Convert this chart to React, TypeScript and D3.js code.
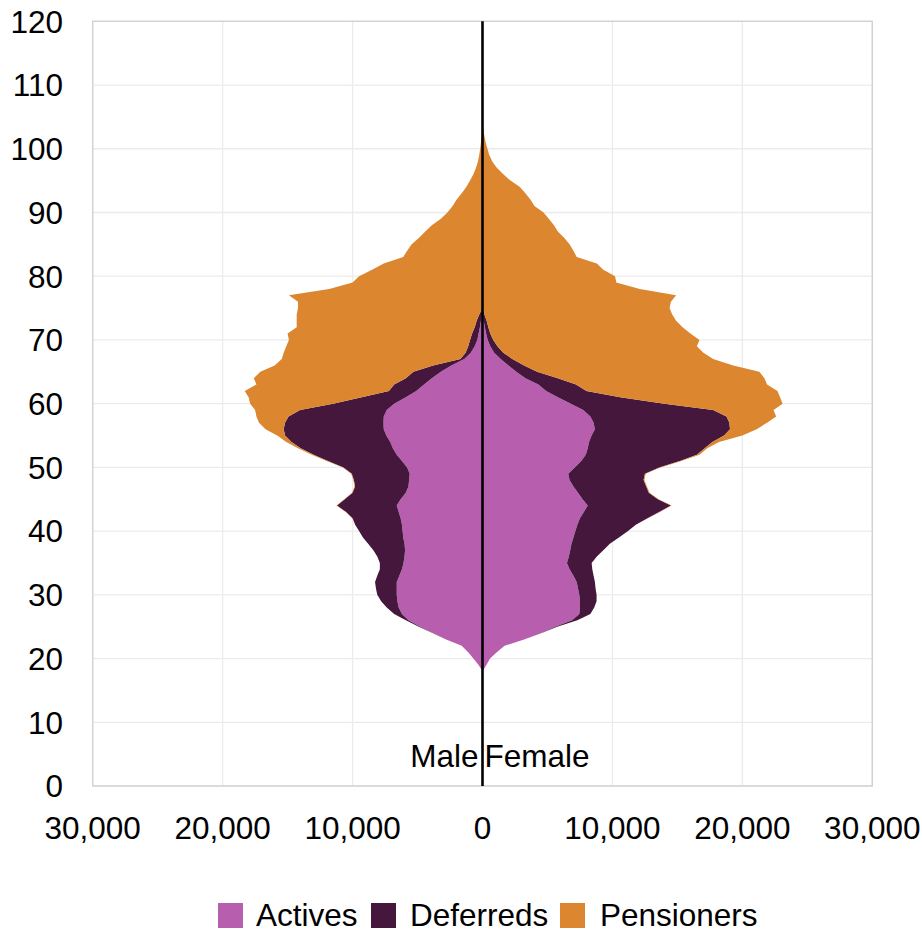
import React from 'react';
import * as d3 from 'd3';

const ages = [18,19,20,21,22,23,24,25,26,27,28,29,30,31,32,33,34,35,36,37,38,39,40,41,42,43,44,45,46,47,48,49,50,51,52,53,54,55,56,57,58,59,60,61,62,63,64,65,66,67,68,69,70,71,72,73,74,75,76,77,78,79,80,81,82,83,84,85,86,87,88,89,90,91,92,93,94,95,96,97,98,99,100,101,102,103,104];

const maleActives = [0,300,700,1100,1600,2800,3800,4800,5700,6200,6450,6550,6600,6600,6600,6400,6200,6080,6000,5960,6000,6100,6150,6200,6300,6450,6600,6300,5900,5700,5650,5600,5800,6200,6600,6900,7100,7400,7600,7620,7600,7370,6800,5900,5100,4500,3900,3200,2400,1400,900,600,400,300,200,120,50,0,0,0,0,0,0,0,0,0,0,0,0,0,0,0,0,0,0,0,0,0,0,0,0,0,0,0,0,0,0];
const maleDeferreds = [0,0,0,0,0,0,50,100,200,600,920,1250,1500,1600,1670,1700,1700,1820,2100,2440,2800,3100,3350,3600,3700,4050,4600,4300,4100,4110,4250,4460,4900,5700,6400,7100,7600,7800,7700,7580,7330,6670,4700,3400,2100,2300,2000,2120,1400,300,400,500,560,500,400,330,200,0,0,0,0,0,0,0,0,0,0,0,0,0,0,0,0,0,0,0,0,0,0,0,0,0,0,0,0,0,0];
const malePensioners = [0,0,0,0,0,0,0,0,0,0,0,0,0,0,0,0,0,0,0,0,0,0,0,0,20,30,40,40,40,40,40,50,50,100,150,200,400,600,1400,2000,2470,3460,6380,8700,11100,10600,11700,11780,12200,13750,14000,14000,13940,14200,13700,13850,14050,14200,14200,14900,11800,10000,9500,8500,7600,6100,5800,5450,4900,4400,3900,3200,2700,2300,2000,1600,1250,960,700,500,350,250,180,120,70,30,0];

const femaleActives = [0,300,580,1100,1700,3200,4500,5600,6900,7450,7500,7500,7450,7350,7250,7000,6700,6500,6650,6750,6850,7000,7150,7300,7500,7800,8100,7700,7350,7000,6700,6600,7100,7600,7950,8100,8200,8400,8650,8550,8300,7750,6800,5800,4900,4300,3300,2600,2000,1400,900,600,400,280,180,100,50,0,0,0,0,0,0,0,0,0,0,0,0,0,0,0,0,0,0,0,0,0,0,0,0,0,0,0,0,0,0];
const femaleDeferreds = [0,0,0,0,0,0,50,150,400,850,1100,1280,1330,1350,1400,1550,1750,1900,2150,2550,2950,3500,4050,4500,5200,5800,6400,5800,5450,5600,5700,5900,6500,7600,8550,9000,9500,10200,10400,10450,10480,10000,7200,4800,3100,2900,2500,1600,1200,900,700,550,430,320,270,220,100,0,0,0,0,0,0,0,0,0,0,0,0,0,0,0,0,0,0,0,0,0,0,0,0,0,0,0,0,0,0];
const femalePensioners = [0,0,0,0,0,0,0,0,0,0,0,0,0,0,0,0,0,0,0,0,0,0,0,0,30,50,60,60,60,60,60,60,100,100,200,200,500,1400,2050,2900,3820,4650,9100,12300,14700,14700,15900,17100,16100,15450,15400,15350,15870,15400,14950,14580,14450,14400,14500,14900,12100,10300,10200,9300,8800,7250,7000,6700,6300,5800,5500,5100,4700,4000,3700,3300,2880,2150,1600,1100,750,520,380,250,150,70,0];

const xTicks = [-30000,-20000,-10000,0,10000,20000,30000];
const yTicks = [0,10,20,30,40,50,60,70,80,90,100,110,120];
const seriesNames = ['Actives','Deferreds','Pensioners'];
const seriesColors = ['#B85EAE','#45173D','#DC862F'];

const W = 922, H = 933;
const left = 92.7, right = 872.3, top = 21.3, bottom = 786;
const FONT = 'Liberation Sans, Arial, sans-serif';
const FS = 31.5;

export default function App() {
  const x = d3.scaleLinear().domain([-30000, 30000]).range([left, right]);
  const y = d3.scaleLinear().domain([0, 120]).range([bottom, top]);

  const rows = ages.map((age, i) => ({
    age,
    m: [maleActives[i], maleDeferreds[i], malePensioners[i]],
    f: [femaleActives[i], femaleDeferreds[i], femalePensioners[i]],
  }));

  const bands: { d: string; color: string }[] = [];
  for (const side of ['m', 'f'] as const) {
    const sign = side === 'm' ? -1 : 1;
    for (let k = 0; k < 3; k++) {
      const area = d3.area<any>()
        .y((d) => y(d.age))
        .x0((d) => x(sign * d3.sum(d[side].slice(0, k))))
        .x1((d) => x(sign * d3.sum(d[side].slice(0, k + 1))))
        .curve(d3.curveLinear);
      bands.push({ d: area(rows) as string, color: seriesColors[k] });
    }
  }

  const fmt = d3.format(',');
  const legendItems = [
    { sq: 218, tx: 256 },
    { sq: 371, tx: 410 },
    { sq: 560, tx: 600 },
  ];

  return (
    <svg width={W} height={H} style={{ position: 'absolute', left: 0, top: 0, background: '#fff' }} fontFamily={FONT}>
      <rect x={0} y={0} width={W} height={H} fill="#fff" />
      {xTicks.map((t) => (
        <line key={'gx' + t} x1={x(t)} x2={x(t)} y1={top} y2={bottom} stroke="#EBEBEB" strokeWidth={1.3} />
      ))}
      {yTicks.map((t) => (
        <line key={'gy' + t} x1={left} x2={right} y1={y(t)} y2={y(t)} stroke="#EBEBEB" strokeWidth={1.3} />
      ))}
      <rect x={left} y={top} width={right - left} height={bottom - top} fill="none" stroke="#D0D0D0" strokeWidth={1.3} />
      {bands.map((b, i) => (
        <path key={i} d={b.d} fill={b.color} stroke="none" />
      ))}
      <line x1={x(0)} x2={x(0)} y1={top} y2={bottom} stroke="#000" strokeWidth={2.6} />
      {yTicks.map((t) => (
        <text key={'ty' + t} x={63} y={y(t)} dy="0.36em" textAnchor="end" fontSize={FS} fill="#000">{t}</text>
      ))}
      {xTicks.map((t) => (
        <text key={'tx' + t} x={x(t)} y={839} textAnchor="middle" fontSize={FS} fill="#000">{fmt(Math.abs(t))}</text>
      ))}
      <text x={x(0) - 4} y={767} textAnchor="end" fontSize={FS} fill="#000">Male</text>
      <text x={x(0) + 2} y={767} textAnchor="start" fontSize={FS} fill="#000">Female</text>
      {seriesNames.map((s, i) => (
        <g key={s}>
          <rect x={legendItems[i].sq} y={903} width={25} height={25} fill={seriesColors[i]} />
          <text x={legendItems[i].tx} y={925.5} fontSize={FS} fill="#000">{s}</text>
        </g>
      ))}
    </svg>
  );
}
